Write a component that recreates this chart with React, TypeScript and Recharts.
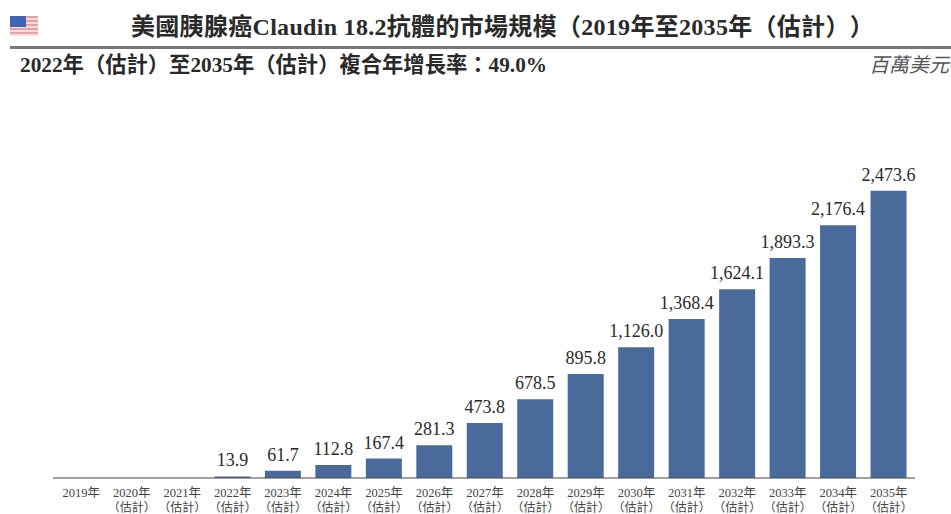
import React from "react";
import { BarChart, Bar, XAxis, YAxis, LabelList } from "recharts";

const years = ["2019", "2020", "2021", "2022", "2023", "2024", "2025", "2026", "2027", "2028", "2029", "2030", "2031", "2032", "2033", "2034", "2035"];
const marketSize = [0, 0, 0, 13.9, 61.7, 112.8, 167.4, 281.3, 473.8, 678.5, 895.8, 1126.0, 1368.4, 1624.1, 1893.3, 2176.4, 2473.6];

const titleText = "美國胰腺癌Claudin 18.2抗體的市場規模（2019年至2035年（估計））";
const cagrText = "2022年（估計）至2035年（估計）複合年增長率：49.0%";
const unitText = "百萬美元";

const data = years.map((year, i) => ({ year, value: marketSize[i] }));

const FONT = '"Liberation Serif", "Noto Sans CJK TC", serif';

const YearTick = (props: any) => {
  const { x, y, payload } = props;
  const first = payload.value === "2019";
  return (
    <g fontFamily={FONT} fontSize={12.5} fill="#444">
      <text x={x} y={y + 11} textAnchor="middle">{payload.value}年</text>
      {!first && <text x={x} y={y + 26} textAnchor="middle" fontSize={12}>（估計）</text>}
    </g>
  );
};

const formatValue = (v: any) =>
  v > 0 ? Number(v).toLocaleString("en-US", { minimumFractionDigits: 1, maximumFractionDigits: 1 }) : "";

const Flag = () => (
  <svg width={28} height={20} style={{ position: "absolute", left: 10, top: 16 }}>
    <rect width={28} height={20} fill="#e8a0a0" />
    {[0, 1, 2, 3, 4].map((i) => (
      <rect key={i} y={i * 4 + 2} width={28} height={2} fill="#f3dede" />
    ))}
    <rect width={16} height={11} fill="#3f66b5" />
  </svg>
);

export default function App() {
  const trim = { textSpacingTrim: "space-all" } as any;
  return (
    <div style={{ position: "absolute", left: 0, top: 0, width: 951, height: 514, background: "#fff", overflow: "hidden", fontFamily: FONT, color: "#2a2a2a", ...trim }}>
      <Flag />
      <div style={{ position: "absolute", left: 131, top: 13, fontSize: 24, letterSpacing: 0.3, fontWeight: "bold", whiteSpace: "nowrap", lineHeight: "28px" }}>
        {titleText}
      </div>
      <div style={{ position: "absolute", left: 10, right: 0, top: 46, height: 3, background: "#777" }} />
      <div style={{ position: "absolute", left: 20, top: 53, fontSize: 21.3, fontWeight: "bold", whiteSpace: "nowrap", lineHeight: "24px" }}>
        {cagrText}
      </div>
      <div style={{ position: "absolute", right: 2, top: 53, fontSize: 20, fontStyle: "italic", color: "#555", lineHeight: "24px" }}>
        {unitText}
      </div>
      <div style={{ position: "absolute", left: 0, top: 0 }}>
        <BarChart width={951} height={514} data={data} barSize={36} margin={{ top: 176, right: 36, bottom: 0, left: 53 }}>
          <XAxis
            dataKey="year"
            interval={0}
            height={36}
            padding={{ left: 3, right: 1 }}
            tickLine={false}
            axisLine={{ stroke: "#444", strokeWidth: 1 }}
            tick={<YearTick />}
          />
          <YAxis hide domain={[0, 2600]} />
          <Bar dataKey="value" fill="#4a6a9c" isAnimationActive={false}>
            <LabelList dataKey="value" position="top" offset={10} formatter={formatValue} fontFamily={FONT} fontSize={18} fill="#2a2a2a" />
          </Bar>
        </BarChart>
      </div>
    </div>
  );
}
